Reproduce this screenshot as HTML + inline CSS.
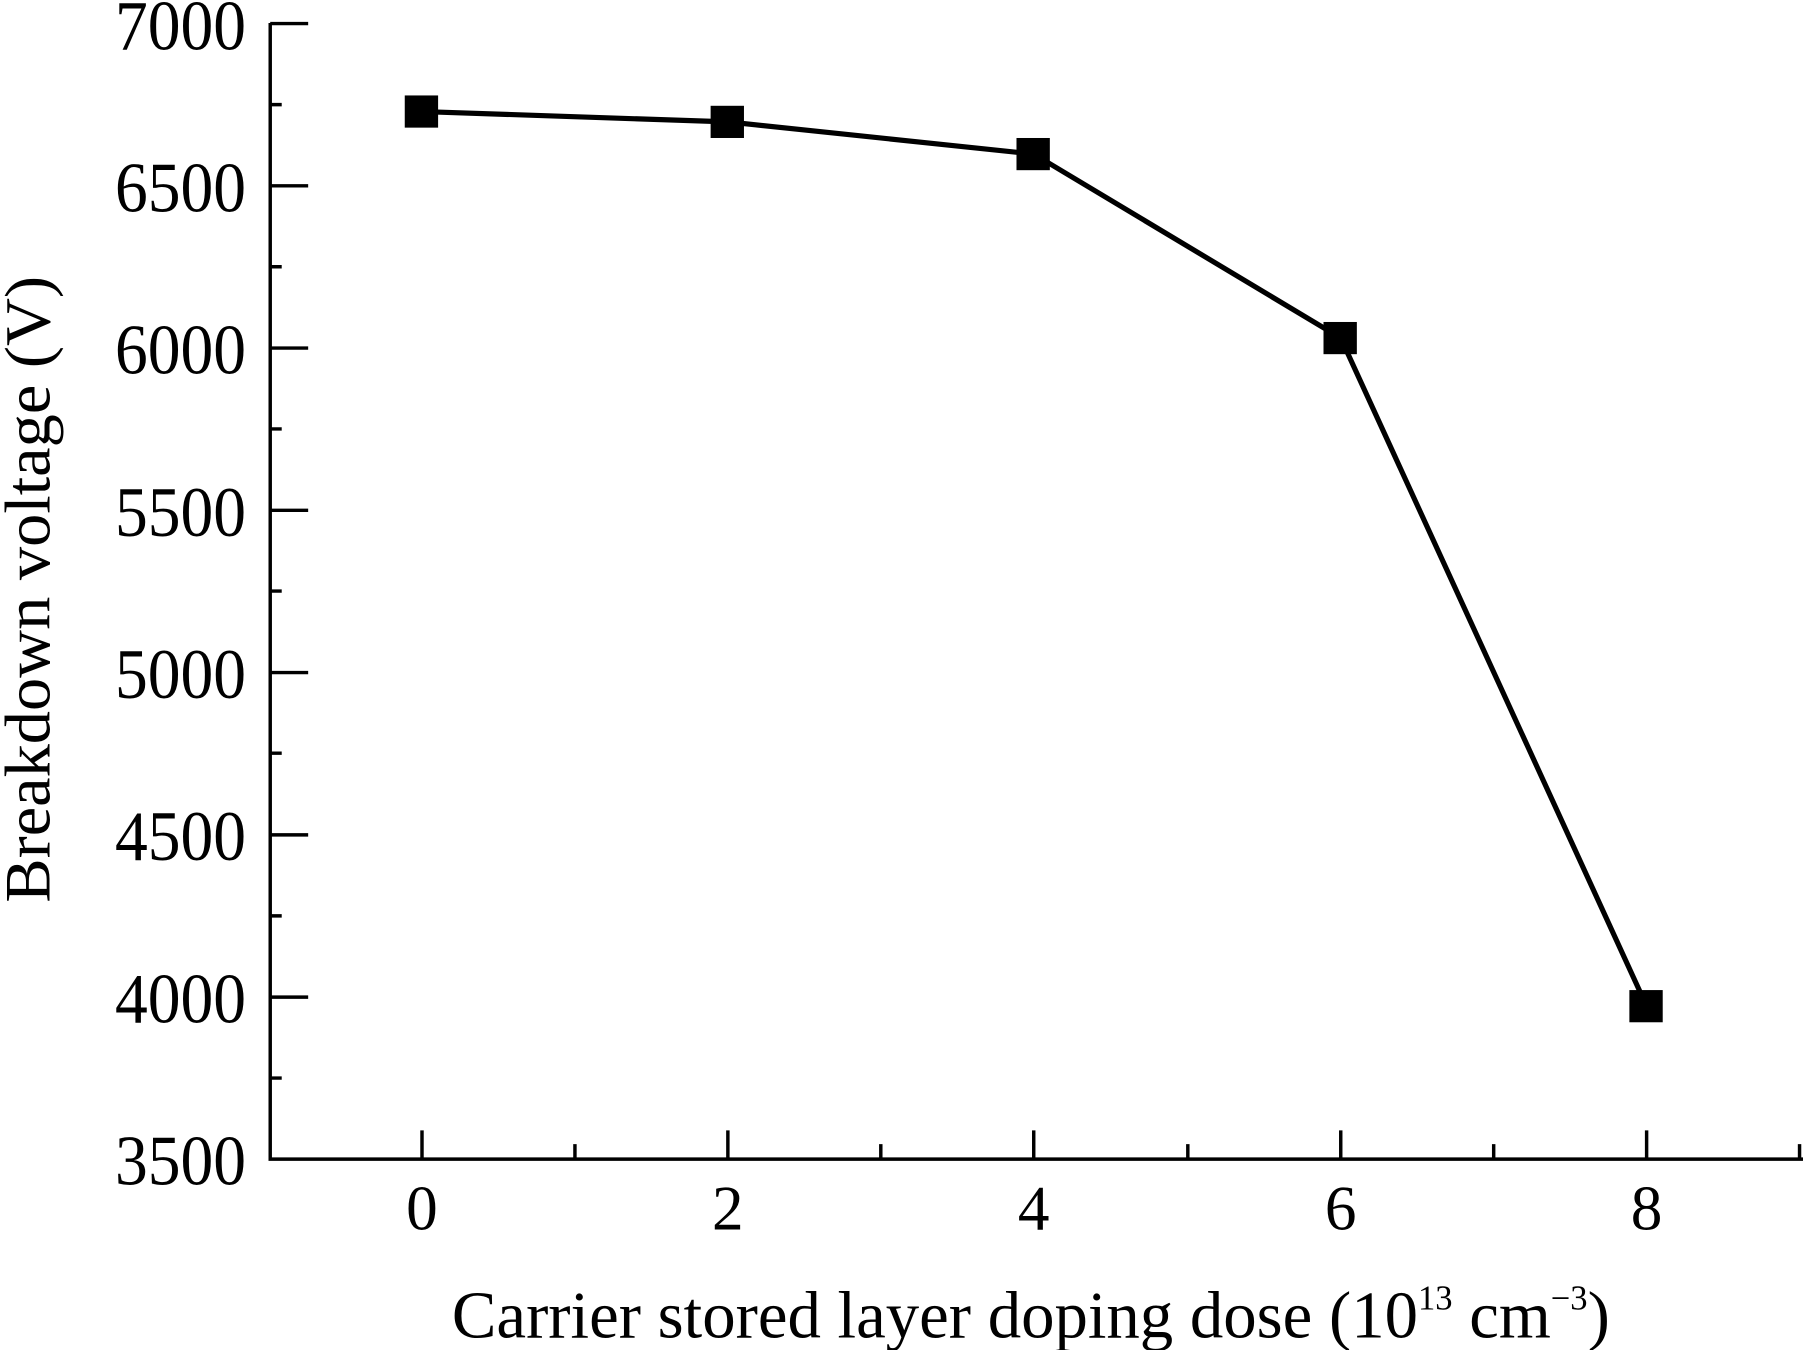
<!DOCTYPE html>
<html><head><style>html,body{margin:0;padding:0;background:#fff;}svg{display:block;}</style></head>
<body>
<svg width="1803" height="1350" viewBox="0 0 1568 1174" preserveAspectRatio="none" xmlns="http://www.w3.org/2000/svg" font-family="Liberation Serif, serif" fill="#000">
<g stroke="#000" stroke-width="3" fill="none">
<path d="M235 20 V1008 H1568"/>
<path d="M235 20.5h33 M235 161.6h33 M235 302.7h33 M235 443.8h33 M235 584.9h33 M235 726h33 M235 867.1h33"/>
<path d="M235 91h10 M235 232h10 M235 373h10 M235 514h10 M235 655h10 M235 796.5h10 M235 937.5h10"/>
<path d="M367 1008v-25 M633 1008v-25 M899 1008v-25 M1166 1008v-25 M1432 1008v-25"/>
<path d="M500 1008v-13 M766 1008v-13 M1033 1008v-13 M1299 1008v-13 M1565 1008v-13"/>
<polyline stroke-width="4.5" points="367,97 633,106 899,134 1166,294 1432,875"/>
</g>
<g>
<rect x="352" y="83" width="29" height="28"/>
<rect x="618" y="92" width="29" height="28"/>
<rect x="884" y="120" width="29" height="28"/>
<rect x="1151" y="280" width="29" height="28"/>
<rect x="1417" y="861" width="29" height="28"/>
</g>
<g font-size="62" text-anchor="end">
<text x="214" y="43" textLength="114" lengthAdjust="spacingAndGlyphs">7000</text>
<text x="214" y="184" textLength="114" lengthAdjust="spacingAndGlyphs">6500</text>
<text x="214" y="325" textLength="114" lengthAdjust="spacingAndGlyphs">6000</text>
<text x="214" y="466" textLength="114" lengthAdjust="spacingAndGlyphs">5500</text>
<text x="214" y="607" textLength="114" lengthAdjust="spacingAndGlyphs">5000</text>
<text x="214" y="748" textLength="114" lengthAdjust="spacingAndGlyphs">4500</text>
<text x="214" y="889" textLength="114" lengthAdjust="spacingAndGlyphs">4000</text>
<text x="214" y="1030" textLength="114" lengthAdjust="spacingAndGlyphs">3500</text>
</g>
<g font-size="55" text-anchor="middle">
<text x="367" y="1069">0</text>
<text x="633" y="1069">2</text>
<text x="899" y="1069">4</text>
<text x="1166" y="1069">6</text>
<text x="1432" y="1069">8</text>
</g>
<text x="393" y="1163" font-size="58" textLength="1007" lengthAdjust="spacingAndGlyphs">Carrier stored layer doping dose (10<tspan font-size="30" dy="-24">13</tspan><tspan dy="24"> cm</tspan><tspan font-size="30" dy="-24">−3</tspan><tspan dy="24">)</tspan></text>
<text transform="translate(43,785) rotate(-90)" font-size="56" textLength="545" lengthAdjust="spacingAndGlyphs">Breakdown voltage (V)</text>
</svg>
</body></html>
